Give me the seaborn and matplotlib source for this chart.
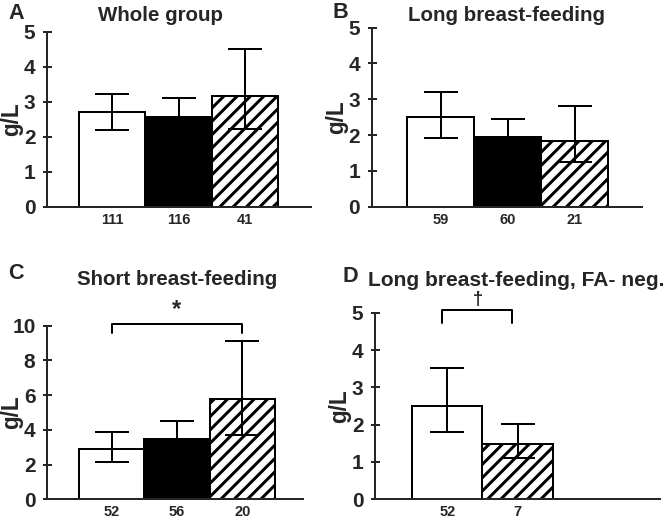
import numpy as np
import pandas as pd
import seaborn as sns
import matplotlib.pyplot as plt

# values (g/L), bar = mean, whiskers = lo / hi
a_n = ["111", "116", "41"]
a_mean = [2.71, 2.58, 3.16]
a_lo = [2.21, 2.06, 2.23]
a_hi = [3.22, 3.10, 4.52]

b_n = ["59", "60", "21"]
b_mean = [2.50, 1.95, 1.84]
b_lo = [1.91, 1.45, 1.24]
b_hi = [3.21, 2.45, 2.81]

c_n = ["52", "56", "20"]
c_mean = [2.88, 3.46, 5.78]
c_lo = [2.15, 2.39, 3.72]
c_hi = [3.89, 4.53, 9.12]

d_n = ["52", "7"]
d_mean = [2.51, 1.49]
d_lo = [1.79, 1.10]
d_hi = [3.53, 2.01]

titles = ["Whole group", "Long breast-feeding", "Short breast-feeding",
          "Long breast-feeding, FA- neg."]
letters = ["A", "B", "C", "D"]

sns.set_style("ticks")
plt.rcParams['font.family'] = ['Liberation Sans', 'DejaVu Sans']
plt.rcParams['font.weight'] = 'bold'
plt.rcParams['hatch.linewidth'] = 1.8
plt.rcParams['hatch.color'] = 'black'

W, H = 667, 520
fig = plt.figure(figsize=(W / 120, H / 120), dpi=120)

def px(x, y):
    return x / W, 1 - y / H

panels = [
    # n, mean, lo, hi, fills, hatches, ylim, yticks, axes rect (px), xlim
    (a_n, a_mean, a_lo, a_hi, ["white", "black", "white"], ["", "", "///"],
     5, [0, 1, 2, 3, 4, 5], (47, 32, 311, 207), (-0.985, 3.0)),
    (b_n, b_mean, b_lo, b_hi, ["white", "black", "white"], ["", "", "///"],
     5, [0, 1, 2, 3, 4, 5], (371.7, 27.7, 641.7, 206.7), (-1.03, 3.0)),
    (c_n, c_mean, c_lo, c_hi, ["white", "black", "white"], ["", "", "///"],
     10, [0, 2, 4, 6, 8, 10], (47, 325.7, 303, 499.3), (-0.99, 2.93)),
    (d_n, d_mean, d_lo, d_hi, ["white", "white"], ["", "///"],
     5, [0, 1, 2, 3, 4, 5], (375, 312.7, 660, 499.3), (-1.03, 3.03)),
]

axes = []
for n, mean, lo, hi, fills, hatches, ymax, yt, (x0, y0, x1, y1), xl in panels:
    ax = fig.add_axes([x0 / W, 1 - y1 / H, (x1 - x0) / W, (y1 - y0) / H])
    df = pd.DataFrame({"n": n, "val": mean})
    sns.barplot(data=df, x="n", y="val", hue="n", order=n, palette=fills,
                width=1.0, errorbar=None, legend=False, ax=ax,
                edgecolor="black", linewidth=1.2, zorder=2)
    for p, h in zip(ax.patches, hatches):
        p.set_hatch(h)
    mean = np.array(mean)
    ax.errorbar(np.arange(len(n)), mean,
                yerr=[mean - np.array(lo), np.array(hi) - mean],
                fmt="none", ecolor="black", elinewidth=1.2, capsize=10,
                capthick=1.2, zorder=3)
    ax.set_ylim(0, ymax)
    ax.set_yticks(yt)
    ax.set_xlim(*xl)
    sns.despine(ax=ax)
    for s in ("left", "bottom"):
        ax.spines[s].set_linewidth(1.2)
    ax.tick_params(axis="y", direction="inout", length=5.4, width=1.2,
                   labelsize=12.5, pad=4.2)
    ax.tick_params(axis="x", length=0, labelsize=8.8, pad=3.5)
    ax.set_xlabel("")
    ax.set_ylabel("g/L", fontsize=13.5, fontweight="bold")
    ax.yaxis.set_label_coords(-24 / (x1 - x0), 0.5)
    for t in ax.get_yticklabels() + ax.get_xticklabels():
        t.set_fontweight("bold")
    axes.append(ax)

# titles and panel letters
title_pos = [(160, 21), (506.7, 21), (176.7, 285), (516.7, 286)]
title_size = [12.3, 12.3, 12.3, 12.6]
letter_pos = [(8, 19), (332, 18), (8, 279), (343, 282)]
for t, (tx, ty), fs, l, (lx, ly) in zip(titles, title_pos, title_size,
                                         letters, letter_pos):
    fig.text(*px(tx, ty), t, ha="center", va="baseline", fontsize=fs,
             fontweight="bold")
    fig.text(*px(lx, ly), l, ha="left", va="baseline", fontsize=13,
             fontweight="bold")

# significance brackets
ax = axes[2]
ax.plot([0, 0, 2, 2], [9.56, 10.1, 10.1, 9.56], color="black", lw=1.2,
        clip_on=False)
ax.text(1, 10.25, "*", ha="center", va="bottom", fontsize=14,
        fontweight="bold", clip_on=False)

ax = axes[3]
ax.plot([-0.07, -0.07, 0.92, 0.92], [4.73, 5.06, 5.06, 4.73], color="black",
        lw=1.2, clip_on=False)
ax.text(0.43, 5.12, "\u2020", ha="center", va="bottom", fontsize=11,
        fontweight="bold", clip_on=False)

fig.savefig("out.png", dpi=120)
